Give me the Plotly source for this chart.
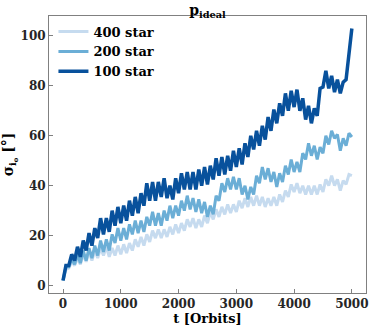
import plotly.graph_objects as go

# time in orbits, sampled every 50 orbits
t_orbits = list(range(0, 5001, 50))

# inclination dispersion [deg]
sigma_400 = [
    2, 6.5, 7, 9.5, 8, 11, 8.5, 12.5, 9.5, 13.5,
    10, 14, 11, 15, 12, 15.5, 11.5, 15, 12, 16,
    12.5, 16.5, 13, 17, 14, 18.5, 15.5, 19.5, 16, 20.5,
    17.5, 22, 19, 22.5, 19, 22.5, 19.5, 23.5, 20.5, 24.5,
    21, 25, 22, 26.5, 23.5, 27, 23, 26.5, 23.5, 28,
    25, 29.5, 26.5, 30.5, 27.5, 31.5, 28.5, 32.5, 29, 32.5,
    29.5, 34, 31, 35, 31.5, 35.5, 32, 36, 32, 35.5,
    31.5, 35, 32, 35.5, 32, 36.5, 33.5, 38, 35.5, 40.5,
    37.5, 41, 37, 40, 36.5, 40, 36.5, 40, 36.5, 40.5,
    37.5, 42.5, 40, 44, 40, 42.5, 38, 42, 40.5, 44.5,
    44,
]
sigma_200 = [
    2, 7.5, 7.5, 10.5, 8.5, 12.5, 9, 14, 10, 15,
    11, 16, 12, 18, 13.5, 18.5, 14, 20.5, 17, 23,
    18, 23, 18.5, 24.5, 20.5, 26, 21, 26, 21.5, 27.5,
    24, 29.5, 24, 29, 24, 30, 26, 32, 27, 32,
    28, 34, 30, 36, 30.5, 35, 29.5, 34.5, 29, 33.5,
    27.5, 32, 28.5, 36, 34, 41, 37.5, 43, 38.5, 43.5,
    38.5, 43, 36.5, 40, 34.5, 39.5, 36.5, 44, 41, 47.5,
    42.5, 47, 41.5, 45.5, 39.5, 45, 41.5, 48, 44.5, 50.5,
    45.5, 49.5, 45.5, 53, 50.5, 57, 52, 56, 50.5, 55.5,
    53, 60, 56.5, 62, 59, 60.5, 54, 59, 56, 61,
    59.5,
]
sigma_100 = [
    2, 8, 8, 12.5, 10, 15.5, 11.5, 18, 14, 21,
    16, 23, 19, 27, 20.5, 27, 21.5, 30, 24, 31.5,
    25, 32, 26, 34, 28, 35.5, 29, 37, 32, 41,
    34, 41.5, 34, 41.5, 35.5, 43, 35, 40, 34.5, 43,
    37, 45, 38.5, 45.5, 38.5, 45.5, 38.5, 46.5, 40, 47.5,
    40.5, 48, 42.5, 51, 44, 51.5, 44.5, 52, 46, 54,
    47.5, 55, 48.5, 57, 51.5, 60, 54.5, 62, 56, 64,
    58.5, 67.5, 62, 70.5, 65, 73, 68, 77, 70, 78,
    71.5, 78.5, 70, 75, 66.5, 72, 65, 71, 68, 79,
    79.5, 86, 79, 84, 77.5, 82.5, 77, 81.5, 82.5, 92,
    103,
]

series = [
    ("400 star", sigma_400, "#c6dbef", 3),
    ("200 star", sigma_200, "#6baed6", 3),
    ("100 star", sigma_100, "#08519c", 3.5),
]

FONT = "DejaVu Serif, Liberation Serif, serif"
GREY = "#808080"
TXT = "#262626"

fig = go.Figure()
for name, vals, col, w in series:
    fig.add_trace(go.Scatter(
        x=t_orbits, y=vals, mode="lines", name=name,
        line=dict(color=col, width=w),
    ))

axis_style = dict(
    showline=True, mirror=True, linecolor=GREY, linewidth=1,
    ticks="inside", ticklen=4, tickcolor=GREY,
    showgrid=False, zeroline=False, automargin=False,
    tickfont=dict(family=FONT, size=12, color=TXT, weight="bold"),
)

fig.update_xaxes(
    range=[-243, 5245], tickvals=[0, 1000, 2000, 3000, 4000, 5000],
    title=dict(text="t [Orbits]", standoff=0,
               font=dict(family=FONT, size=13, color="black", weight="bold")),
    **axis_style,
)
fig.update_yaxes(
    range=[-3, 108], tickvals=[0, 20, 40, 60, 80, 100],
    title=dict(text="σ<sub>i<sub>o</sub></sub> [°]", standoff=10,
               font=dict(family=FONT, size=14, color="black", weight="bold")),
    **axis_style,
)

fig.update_layout(
    width=374, height=328,
    margin=dict(l=49, r=8, t=16, b=35),
    plot_bgcolor="white", paper_bgcolor="white",
    title=dict(text="p<sub>ideal</sub>", x=0.5, xref="paper", xanchor="center",
               y=1, yref="paper", yanchor="bottom", pad=dict(b=1),
               font=dict(family=FONT, size=14, color="black", weight="bold")),
    legend=dict(x=0.014, y=0.998, xanchor="left", yanchor="top",
                bgcolor="rgba(0,0,0,0)", tracegroupgap=0, itemwidth=30,
                font=dict(family=FONT, size=13, color="black", weight="bold")),
    showlegend=True,
)

# drop the browser's default page margin so the figure sits at the corner
fig.write_html("out.html", config={"displayModeBar": False},
               post_script="document.body.style.margin='0';")
